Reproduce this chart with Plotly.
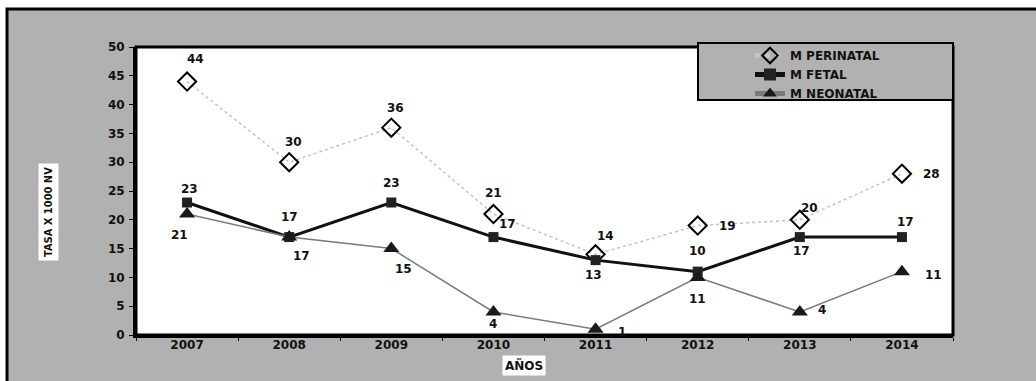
import plotly.graph_objects as go

# datos
anios = ["2007", "2008", "2009", "2010", "2011", "2012", "2013", "2014"]
perinatal = [44, 30, 36, 21, 14, 19, 20, 28]
fetal = [23, 17, 23, 17, 13, 11, 17, 17]
neonatal = [21, 17, 15, 4, 1, 10, 4, 11]

# desplazamiento de cada etiqueta (px) respecto a su punto
OFF_PERI = [(8, 23), (4, 20), (4, 20), (0, 21), (10, 18), (30, 0), (10, 12), (30, 0)]
OFF_FETAL = [(2, 14), (0, 20), (0, 20), (14, 13), (-2, -15), (0, -27), (2, -14), (4, 15)]
OFF_NEO = [(-8, -21), (12, -19), (12, -20), (0, -12), (26, -3), (0, 26), (22, 2), (32, -3)]

BG_GREY = "#b1b1b1"
FONT = "DejaVu Sans, Liberation Sans, Arial"
LABEL_FONT = dict(family=FONT, size=12, color="#111111", weight="bold")

fig = go.Figure()

fig.add_trace(go.Scatter(
    x=anios, y=perinatal, mode="lines+markers", name="M PERINATAL",
    line=dict(color="#c4c4c4", width=1.5, dash="dot"),
    marker=dict(symbol="diamond-open", size=14, color="black", line=dict(width=2)),
))
fig.add_trace(go.Scatter(
    x=anios, y=fetal, mode="lines+markers", name="M FETAL",
    line=dict(color="#111111", width=3),
    marker=dict(symbol="square", size=10, color="#222222"),
))
fig.add_trace(go.Scatter(
    x=anios, y=neonatal, mode="lines+markers", name="M NEONATAL",
    line=dict(color="#7a7a7a", width=1.5),
    marker=dict(symbol="triangle-up", size=14, color="#1a1a1a"),
))

annotations = []
for serie, offs in ((perinatal, OFF_PERI), (fetal, OFF_FETAL), (neonatal, OFF_NEO)):
    for i, (v, (dx, dy)) in enumerate(zip(serie, offs)):
        annotations.append(dict(
            x=i, y=v, text=str(v), showarrow=False,
            xshift=dx, yshift=dy, font=LABEL_FONT,
        ))

L, R, T, B = 136, 83, 47, 46
W, H = 1036, 381
pw, ph = W - L - R, H - T - B


def px_x(p):
    return (p - L) / pw


def px_y(p):
    return (H - B - p) / ph


# titulos de ejes en cajas blancas
annotations.append(dict(
    xref="paper", yref="paper", x=px_x(48), y=px_y(212), text="TASA X 1000 NV",
    xanchor="center", yanchor="middle",
    textangle=-90, showarrow=False, bgcolor="white", borderpad=3,
    font=dict(family="DejaVu Sans Condensed, Liberation Sans Narrow", size=11,
              color="#111111", weight="bold"),
))
annotations.append(dict(
    xref="paper", yref="paper", x=px_x(524), y=px_y(365), text="AÑOS",
    xanchor="center", yanchor="middle", showarrow=False, bgcolor="white", borderpad=2,
    font=dict(family=FONT, size=12, color="#111111", weight="bold"),
))

shapes = [
    # fondo gris con marco negro
    dict(type="rect", xref="paper", yref="paper", layer="below",
         x0=px_x(7), x1=px_x(1060), y0=px_y(400), y1=px_y(9),
         fillcolor=BG_GREY, line=dict(color="black", width=3)),
    # area de trazado blanca
    dict(type="rect", xref="paper", yref="paper", layer="below",
         x0=0, x1=1, y0=0, y1=1, fillcolor="white",
         line=dict(color="black", width=3)),
    # caja de leyenda
    dict(type="rect", xref="paper", yref="paper", layer="below",
         x0=px_x(698), x1=px_x(953), y0=px_y(100), y1=px_y(43),
         fillcolor=BG_GREY, line=dict(color="black", width=2)),
]

fig.update_layout(
    width=W, height=H,
    margin=dict(l=L, r=R, t=T, b=B),
    paper_bgcolor="white",
    plot_bgcolor="rgba(0,0,0,0)",
    font=dict(family=FONT, size=12, color="#111111", weight="bold"),
    shapes=shapes,
    annotations=annotations,
    showlegend=True,
    legend=dict(
        x=px_x(750), y=px_y(41), xanchor="left", yanchor="top",
        bgcolor="rgba(0,0,0,0)", borderwidth=0,
        font=dict(family=FONT, size=12, color="#111111", weight="bold"),
        tracegroupgap=0, itemwidth=30, itemsizing="constant",
    ),
    xaxis=dict(
        type="category", range=[-0.5, 7.5], showgrid=False, zeroline=False,
        showline=True, linecolor="black", linewidth=3,
        ticks="outside", tickson="boundaries", ticklen=3, tickcolor="black",
        tickfont=dict(size=12, weight="bold"), ticklabelstandoff=-3,
    ),
    yaxis=dict(
        range=[0, 50], dtick=5, showgrid=False, zeroline=False,
        showline=True, linecolor="black", linewidth=3,
        ticks="outside", ticklen=4, tickcolor="black",
        tickfont=dict(size=12, weight="bold"), ticklabelstandoff=2,
    ),
)

fig.write_html("out.html", config={"displayModeBar": False},
               post_script="document.body.style.margin='0';")
